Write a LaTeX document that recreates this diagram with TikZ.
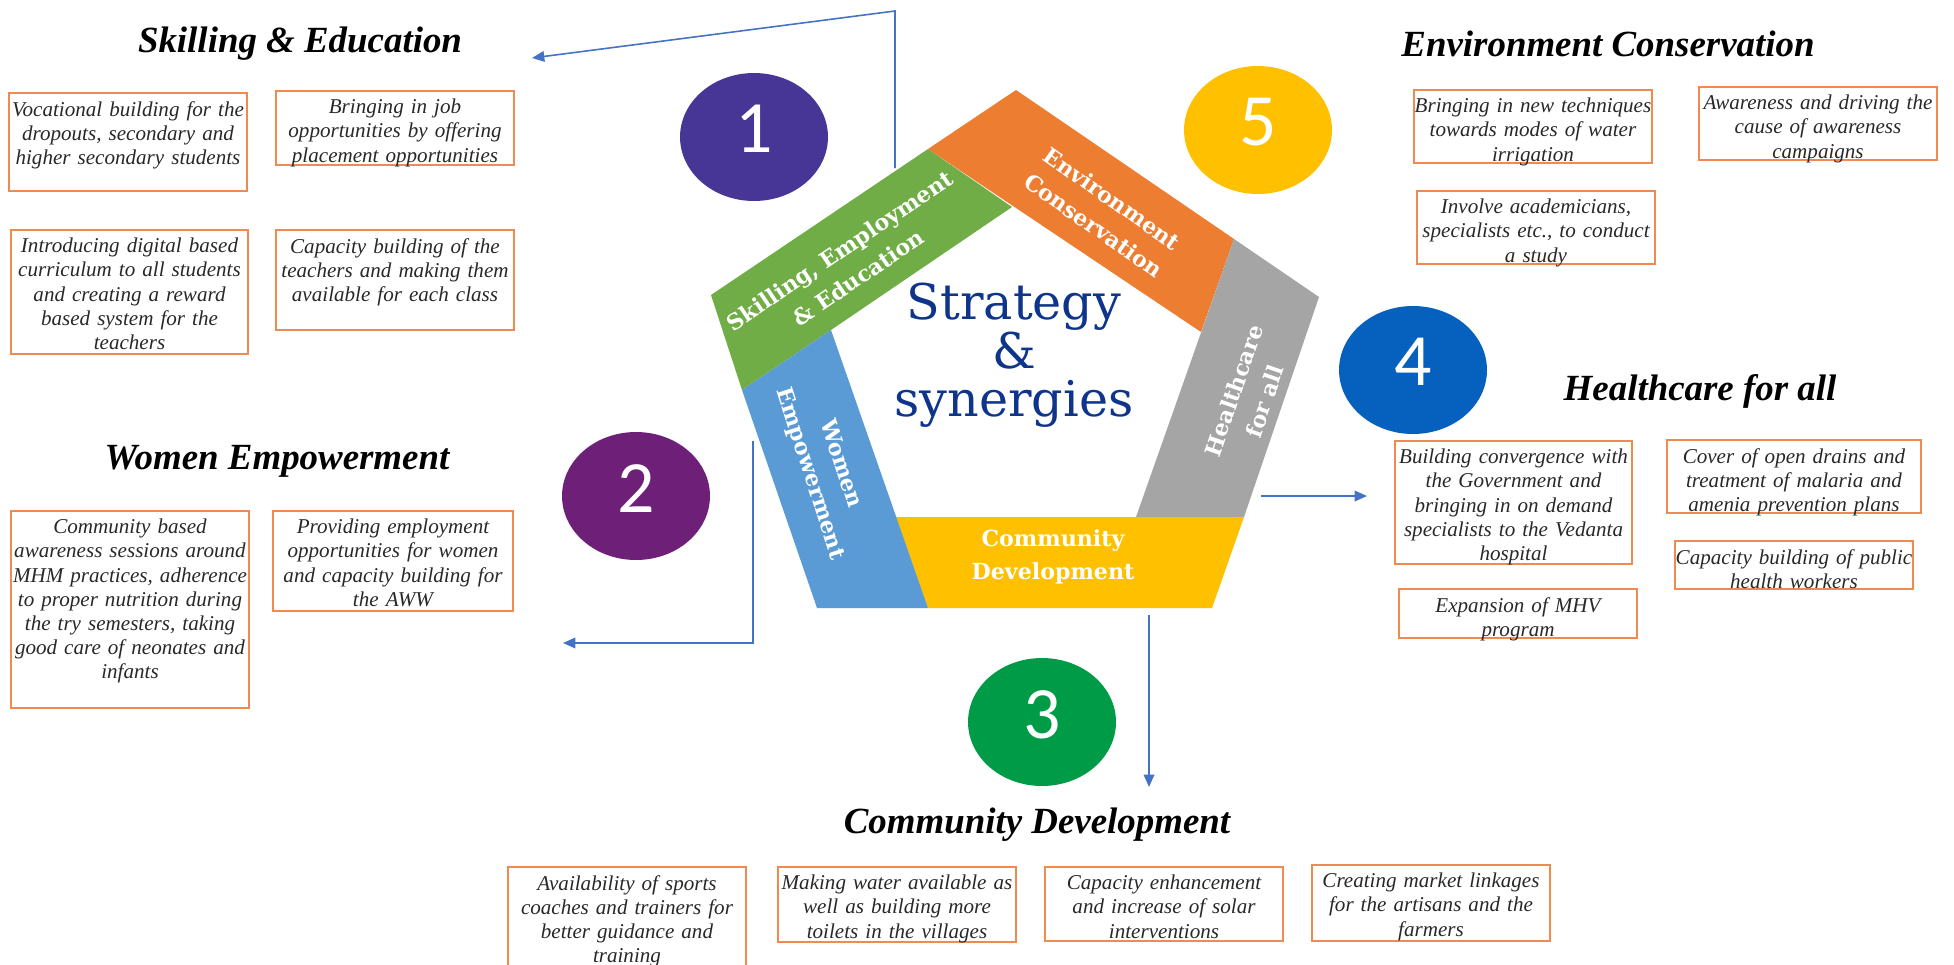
\documentclass[tikz,border=0pt]{standalone}
\usepackage{fontspec}
\setmainfont{Liberation Serif}
\newfontfamily\slabfont{DejaVu Serif}
\newfontfamily\digitfont{Carlito}
\usetikzlibrary{arrows.meta,shapes.geometric}
\definecolor{skillcol}{RGB}{112,173,71}
\definecolor{envcol}{RGB}{237,125,49}
\definecolor{healthcol}{RGB}{165,165,165}
\definecolor{commcol}{RGB}{255,192,0}
\definecolor{womencol}{RGB}{91,155,213}
\definecolor{discone}{RGB}{72,54,150}
\definecolor{disctwo}{RGB}{110,32,120}
\definecolor{discthree}{RGB}{0,155,70}
\definecolor{discfour}{RGB}{5,96,190}
\definecolor{discfive}{RGB}{255,192,0}
\definecolor{stratcol}{RGB}{14,52,140}
\definecolor{arrowblue}{RGB}{68,114,196}
\definecolor{boxorange}{RGB}{241,138,80}
\definecolor{boxgray}{RGB}{40,40,40}
\tikzset{
  flowln/.style={-{Triangle[length=7pt,width=6pt]}, line width=0.9pt, arrowblue},
  boxln/.style={line width=0.9pt, boxorange},
  boxtxt/.style={anchor=north, inner sep=2pt, yshift=-2.5pt, text width=5.8cm, align=center,
    text=boxgray, font=\fontsize{12}{13.7}\selectfont\itshape},
  heading/.style={font=\fontsize{21}{24}\selectfont\bfseries\itshape},
  bandtxt/.style={text=white, align=center, inner sep=0pt,
    font=\slabfont\fontsize{12.6}{18.5}\selectfont\bfseries},
  numdisc/.style={ellipse, minimum width=2.96cm, minimum height=2.56cm, inner sep=0pt,
    text=white, text depth=9pt, font=\digitfont\fontsize{42}{42}\selectfont},
}
\newcommand{\actbox}[6]{%
  \draw[boxln] (#2,#3) rectangle (#4,#5);
  \node[boxtxt] (#1) at ({(#2+#4)/2},#3) {#6};
}

\begin{document}
\begin{tikzpicture}[x=0.02cm, y=-0.02cm]
    \useasboundingbox (0,0) rectangle (1954,964);
    \clip (0,0) rectangle (1954,964);
    % pentagon bands
    \fill[envcol] (928,149) -- (1016,90) -- (1234,239) -- (1201,332) -- cycle;
    \fill[skillcol] (711,295) -- (928,149) -- (1012,207) -- (831,330) -- (742,390) -- cycle;
    \fill[healthcol] (1234,239) -- (1319,297) -- (1244,517) -- (1136,517) -- cycle;
    \fill[commcol] (896,517) -- (1244,517) -- (1212,608) -- (928,608) -- cycle;
    \fill[womencol] (742,390) -- (831,330) -- (928,608) -- (817,608) -- cycle;
    \node[bandtxt, rotate=34] (lblskill) at (849,264) {Skilling, Employment\\\& Education};
    \node[bandtxt, rotate=-35] (lblenv) at (1103,212) {Environment\\Conservation};
    \node[bandtxt, rotate=71] (lblhealth) at (1249,396) {Healthcare\\for all};
    \node[bandtxt] (lblcomm) at (1053,557) {Community\\Development};
    \node[bandtxt, rotate=-72] (lblwomen) at (825,469) {Women\\Empowerment};
    \node[stratcol, align=center, inner sep=0pt,
      font=\slabfont\fontsize{28}{27}\selectfont] (core) at (1014,355)
      {Strategy\\\&\\synergies};
    % numbered discs
    \node[numdisc, fill=discone] (num1) at (754,137) {1};
    \node[numdisc, fill=disctwo] (num2) at (636,496) {2};
    \node[numdisc, fill=discthree] (num3) at (1042,722) {3};
    \node[numdisc, fill=discfour] (num4) at (1413,370) {4};
    \node[numdisc, fill=discfive] (num5) at (1258,130) {5};
    % headings
    \node[heading] (ttlskill) at (300,44) {Skilling \& Education};
    \node[heading] (ttlwomen) at (277,461) {Women Empowerment};
    \node[heading] (ttlenv) at (1608,44) {Environment Conservation};
    \node[heading] (ttlhealth) at (1700,391) {Healthcare for all};
    \node[heading] (ttlcomm) at (1037,825) {Community Development};
    % connectors out of the pentagon
    \coordinate (skillfoot) at (895,168);
    \coordinate (skillbend) at (895,11);
    \coordinate (skilltip) at (532,58);
    \draw[flowln] (skillfoot) -- (skillbend) -- (skilltip);
    \coordinate (womenfoot) at (753,441);
    \coordinate (womenbend) at (753,643);
    \coordinate (womentip) at (563,643);
    \draw[flowln] (womenfoot) -- (womenbend) -- (womentip);
    \coordinate (healthfoot) at (1261,496);
    \coordinate (healthtip) at (1367,496);
    \draw[flowln] (healthfoot) -- (healthtip);
    \coordinate (commfoot) at (1149,615);
    \coordinate (commtip) at (1149,787);
    \draw[flowln] (commfoot) -- (commtip);
    % activity boxes
    \actbox{sk1}{9}{93}{247}{191}{Vocational building for the\\dropouts, secondary and\\higher secondary students}
    \actbox{sk2}{276}{91}{514}{165}{Bringing in job\\opportunities by offering\\placement opportunities}
    \actbox{sk3}{11}{230}{248}{354}{Introducing digital based\\curriculum to all students\\and creating a reward\\based system for the\\teachers}
    \actbox{sk4}{276}{230}{514}{330}{Capacity building of the\\teachers and making them\\available for each class}
    \actbox{we1}{11}{511}{249}{708}{Community based\\awareness sessions around\\MHM practices, adherence\\to proper nutrition during\\the try semesters, taking\\good care of neonates and\\infants}
    \actbox{we2}{273}{511}{513}{611}{Providing employment\\opportunities for women\\and capacity building for\\the AWW}
    \actbox{ec1}{1414}{90}{1652}{163}{Bringing in new techniques\\towards modes of water\\irrigation}
    \actbox{ec2}{1699}{87}{1937}{160}{Awareness and driving the\\cause of awareness\\campaigns}
    \actbox{ec3}{1417}{191}{1655}{264}{Involve academicians,\\specialists etc., to conduct\\a study}
    \actbox{hc1}{1395}{441}{1632}{564}{Building convergence with\\the Government and\\bringing in on demand\\specialists to the Vedanta\\hospital}
    \actbox{hc2}{1667}{440}{1921}{513}{Cover of open drains and\\treatment of malaria and\\amenia prevention plans}
    \actbox{hc3}{1675}{541}{1913}{589}{Capacity building of public\\health workers}
    \actbox{hc4}{1399}{589}{1637}{638}{Expansion of MHV\\program}
    \actbox{cd1}{508}{867}{746}{990}{Availability of sports\\coaches and trainers for\\better guidance and\\training}
    \actbox{cd2}{778}{867}{1016}{942}{Making water available as\\well as building more\\toilets in the villages}
    \actbox{cd3}{1045}{867}{1283}{941}{Capacity enhancement\\and increase of solar\\interventions}
    \actbox{cd4}{1312}{865}{1550}{941}{Creating market linkages\\for the artisans and the\\farmers}
  \end{tikzpicture}
\end{document}
